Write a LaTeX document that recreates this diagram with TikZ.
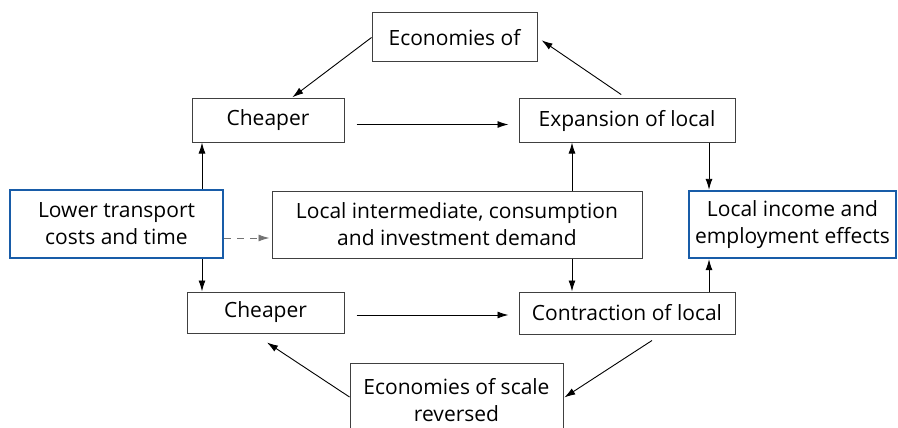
\documentclass[tikz,border=0pt]{standalone}
\usepackage{fontspec}
\setmainfont{Open Sans}
\usetikzlibrary{arrows.meta}
\definecolor{keyblue}{RGB}{24,92,168}
\tikzset{
  flow node/.style={
    draw=black!75,
    line width=1pt,
    align=center,
    inner sep=0pt,
    font=\fontsize{21}{27}\selectfont,
  },
  key node/.style={
    flow node,
    draw=keyblue,
    line width=2.4pt,
  },
  flow arrow/.style={
    line width=0.9pt,
    -{Latex[length=11pt,width=7pt]},
  },
}

\begin{document}
\begin{tikzpicture}[x=1pt,y=-1pt]
        \useasboundingbox (0,0) rectangle (898,428);

        \node[flow node, minimum width=165pt, minimum height=49pt] (econ) at (454.5,37.5) {Economies of};
        \node[flow node, minimum width=152pt, minimum height=43pt] (cheapup) at (268,120.5) {Cheaper};
        \node[flow node, minimum width=216pt, minimum height=43pt] (expand) at (627,120.5) {Expansion of local};
        \node[key node, minimum width=213pt, minimum height=68pt] (lower) at (116.5,224) {Lower transport\\costs and time};
        \node[flow node, minimum width=370pt, minimum height=67pt] (inter) at (457,224.5) {Local intermediate, consumption\\and investment demand};
        \node[key node, minimum width=207pt, minimum height=67pt] (income) at (792.5,224.5) {Local income and\\employment effects};
        \node[flow node, minimum width=157pt, minimum height=41pt] (cheapdown) at (265.5,312.5) {Cheaper};
        \node[flow node, minimum width=216pt, minimum height=42pt] (contract) at (627,313) {Contraction of local};
        \node[flow node, minimum width=213pt, minimum height=74pt] (reverse) at (456.5,400) {Economies of scale\\reversed};

        \draw[flow arrow, shorten >=2pt] (econ.west) -- (cheapup.44);
        \draw[flow arrow, shorten <=7pt, shorten >=5pt] (expand.north) -- (econ.east);
        \draw[flow arrow, shorten <=12pt, shorten >=10pt] ([yshift=-4pt]cheapup.east) -- ([yshift=-4pt]cheapup.east -| expand.west);
        \draw[flow arrow, shorten <=12pt, shorten >=10pt] ([yshift=-2.5pt]cheapdown.east) -- ([yshift=-2.5pt]cheapdown.east -| contract.west);

        \draw[flow arrow] ([xshift=85.5pt]lower.north) -- ([xshift=85.5pt]lower.north |- cheapup.south);
        \draw[flow arrow] ([xshift=85.5pt]lower.south) -- ([xshift=85.5pt]lower.south |- cheapdown.north);
        \draw[flow arrow, draw=black!55, dash pattern=on 7pt off 6pt, shorten >=2pt] ([yshift=-14pt]lower.east) -- ([yshift=-14pt]lower.east -| inter.west);

        \draw[flow arrow] ([xshift=115pt]inter.north) -- ([xshift=115pt]inter.north |- expand.south);
        \draw[flow arrow] ([xshift=115pt]inter.south) -- ([xshift=115pt]inter.south |- contract.north);
        \draw[flow arrow] ([xshift=82pt]expand.south) -- ([xshift=82pt]expand.south |- income.north);
        \draw[flow arrow] ([xshift=82pt]contract.north) -- ([xshift=82pt]contract.north |- income.south);

        \draw[flow arrow, shorten >=1pt] ([xshift=25pt,yshift=-6pt]contract.south) -- ([yshift=2pt]reverse.east);
        \draw[flow arrow] ([yshift=3pt]reverse.west) -- ([xshift=1.5pt,yshift=-9pt]cheapdown.south);
      \end{tikzpicture}
\end{document}
